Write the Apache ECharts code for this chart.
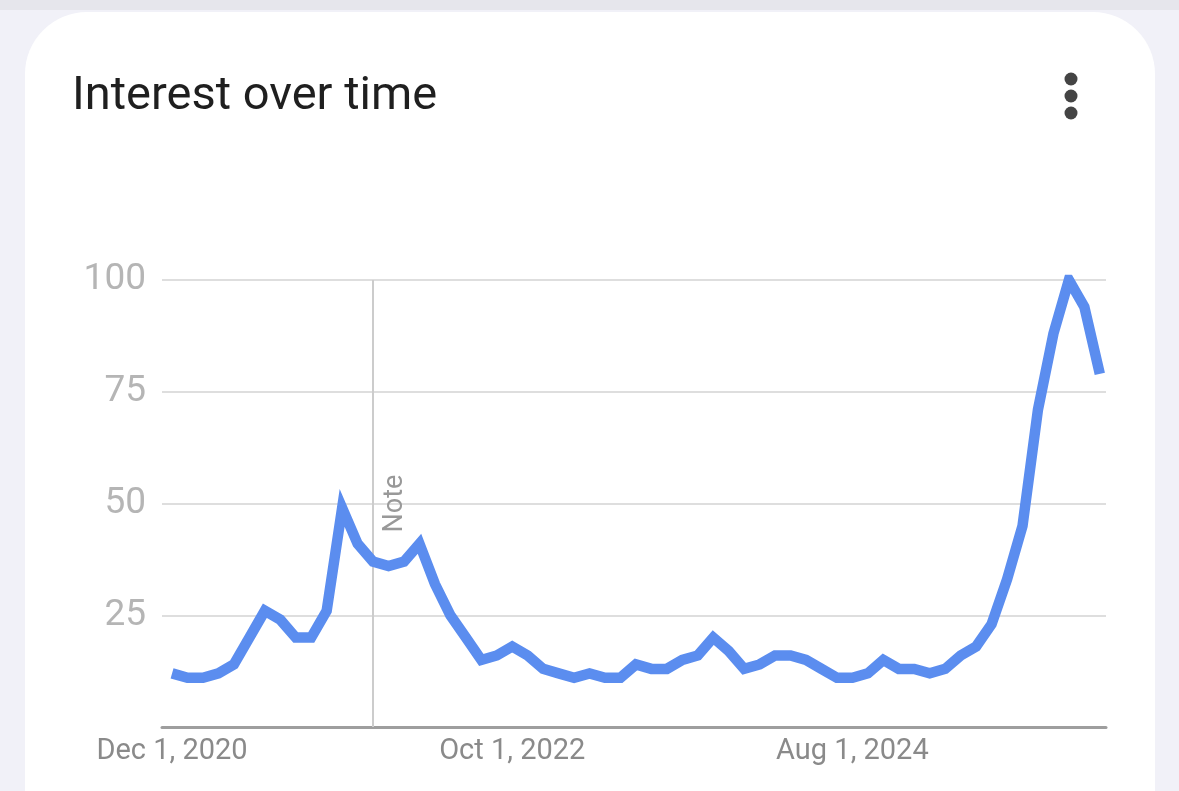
<!DOCTYPE html>
<html>
<head>
<meta charset="utf-8">
<script src="https://cdn.jsdelivr.net/npm/echarts@6/dist/echarts.min.js"></script>
<style>
  html, body { margin: 0; padding: 0; background: #f1f1f8; }
  #chart { width: 1179px; height: 791px; }
</style>
</head>
<body>
<div id="chart"></div>
<script>
// Monthly, Dec 2020 .. Dec 2025
const months = [];
(function(){
  const names = ['Jan','Feb','Mar','Apr','May','Jun','Jul','Aug','Sep','Oct','Nov','Dec'];
  let y = 2020, m = 11;
  for (let i = 0; i < 61; i++) {
    months.push(names[m] + ' 1, ' + y);
    m++; if (m > 11) { m = 0; y++; }
  }
})();
const interestValues = [
  12, 11, 11, 12, 14, 20, 26, 24, 20, 20,
  26, 49, 41, 37, 36, 37, 41, 32, 25, 20,
  15, 16, 18, 16, 13, 12, 11, 12, 11, 11,
  14, 13, 13, 15, 16, 20, 17, 13, 14, 16,
  16, 15, 13, 11, 11, 12, 15, 13, 13, 12,
  13, 16, 18, 23, 33, 45, 71, 88, 100, 94,
  79
];
const xTickIndices = [0, 22, 44];
const yTicks = [25, 50, 75, 100];
const noteIndex = 13;
const noteText = 'Note';
const titleText = 'Interest over time';

const chart = echarts.init(document.getElementById('chart'), null, { renderer: 'canvas' });
const seriesData = interestValues.map((v, i) => [i, v]);

chart.setOption({
  backgroundColor: '#f1f1f8',
  animation: false,
  graphic: [
    { type: 'rect', z: -10, shape: { x: 0, y: 0, width: 1179, height: 10 }, style: { fill: '#e6e6ec' } },
    { type: 'rect', z: -9, shape: { x: 25, y: 12, width: 1130, height: 900, r: 62 }, style: { fill: '#ffffff' } },
    { type: 'text', left: 72, top: 74, style: { text: titleText, font: '47px Roboto', fill: '#1f1f1f' } },
    { type: 'circle', shape: { cx: 1071, cy: 79, r: 6.5 }, style: { fill: '#444444' } },
    { type: 'circle', shape: { cx: 1071, cy: 96, r: 6.5 }, style: { fill: '#444444' } },
    { type: 'circle', shape: { cx: 1071, cy: 113, r: 6.5 }, style: { fill: '#444444' } }
  ],
  grid: { left: 162, right: 73, top: 280, bottom: 64, containLabel: false },
  xAxis: {
    type: 'value',
    min: -0.65,
    max: 60.4,
    splitLine: { show: false },
    axisLine: { show: true, onZero: false, lineStyle: { color: '#9e9e9e', width: 3 } },
    axisTick: { show: false },
    axisLabel: {
      customValues: xTickIndices,
      formatter: v => months[Math.round(v)],
      color: '#8a8a8a',
      fontFamily: 'Roboto',
      fontSize: 29,
      margin: 10
    }
  },
  yAxis: {
    type: 'value',
    min: 0,
    max: 100,
    interval: 25,
    axisLine: { show: false },
    axisTick: { show: false },
    splitLine: { lineStyle: { color: '#dedede', width: 2 } },
    axisLabel: {
      formatter: v => (yTicks.indexOf(v) >= 0 ? String(v) : ''),
      color: '#b5b5b5',
      fontFamily: 'Roboto',
      fontSize: 37,
      margin: 16
    }
  },
  series: [{
    type: 'line',
    data: seriesData,
    showSymbol: false,
    lineStyle: { color: '#5b8def', width: 10.5, join: 'miter', cap: 'butt' },
    z: 5,
    markLine: {
      silent: true,
      symbol: ['none', 'none'],
      lineStyle: { color: '#cccccc', width: 2, type: 'solid' },
      label: {
        show: true,
        formatter: noteText,
        position: 'insideMiddleBottom',
        color: '#999999',
        fontFamily: 'Roboto',
        fontSize: 27,
        distance: 9
      },
      data: [{ xAxis: noteIndex }],
      z: 1
    }
  }]
});
</script>
</body>
</html>
